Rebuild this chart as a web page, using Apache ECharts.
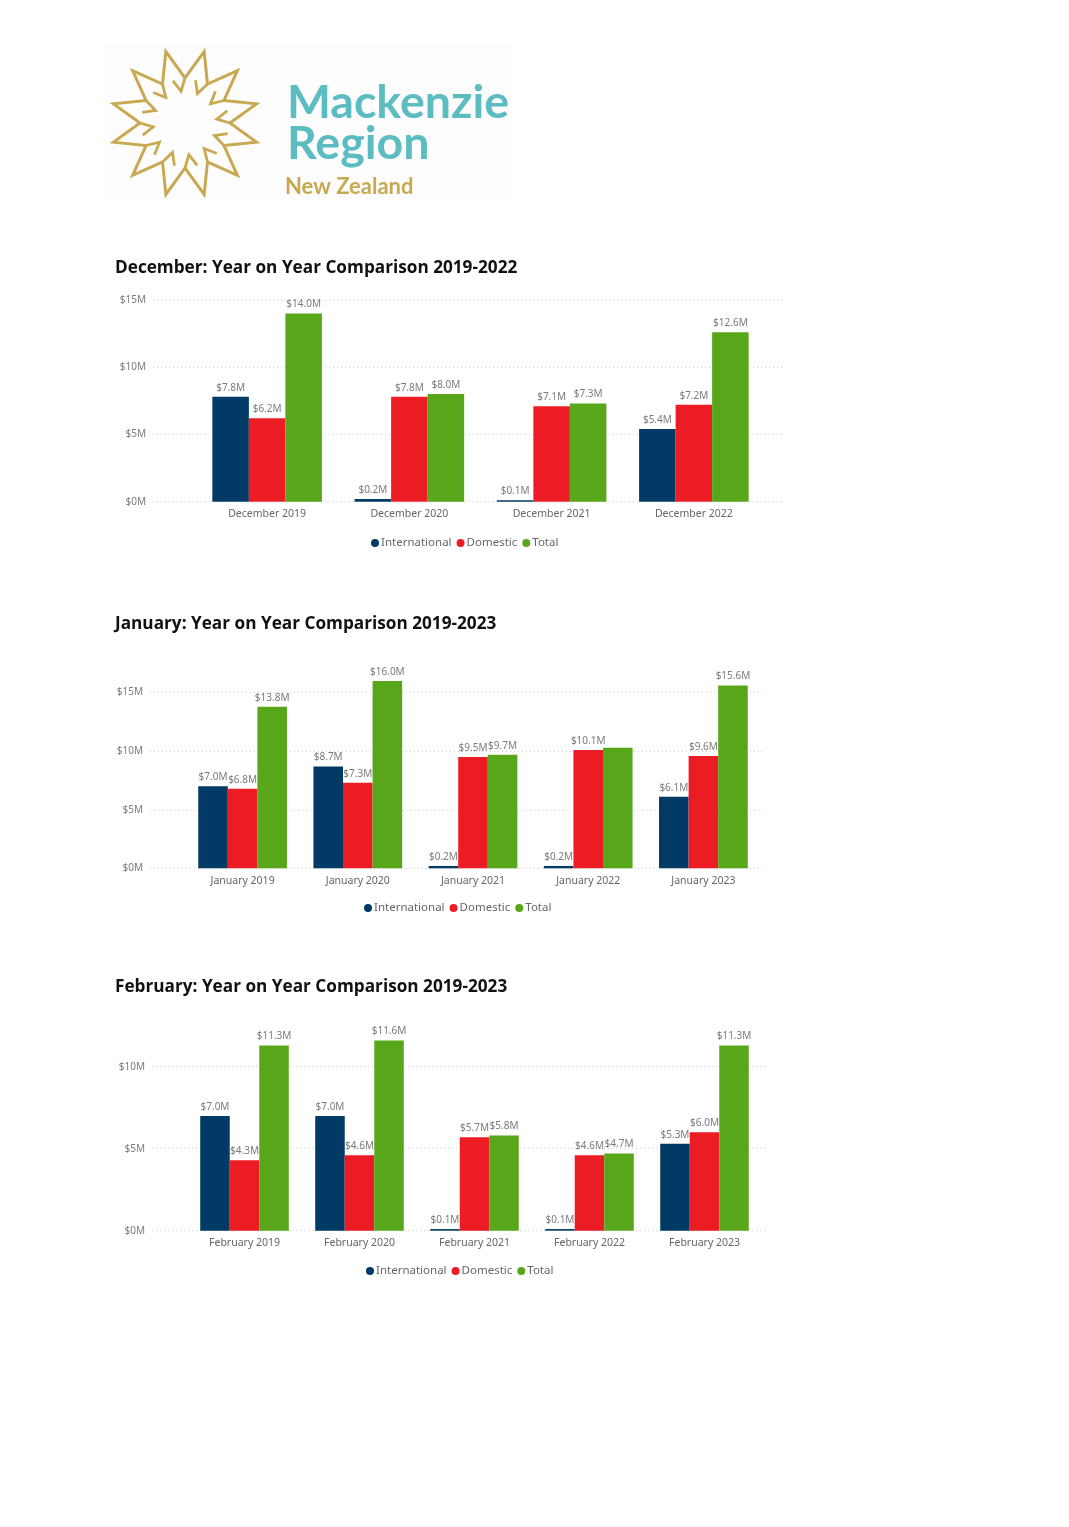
<!DOCTYPE html>
<html>
<head>
<meta charset="utf-8">
<script src="https://cdn.jsdelivr.net/npm/echarts@6/dist/echarts.min.js"></script>
<style>
html,body{margin:0;padding:0;background:#fff;}
#chart{width:1069px;height:1527px;}
</style>
</head>
<body>
<div id="chart"></div>
<script>
// ---- DATA ----
const seriesNames = ['International', 'Domestic', 'Total'];

const decTitle = 'December: Year on Year Comparison 2019-2022';
const decCategories = ['December 2019', 'December 2020', 'December 2021', 'December 2022'];
const decInternational = [7.8, 0.2, 0.1, 5.4];
const decDomestic = [6.2, 7.8, 7.1, 7.2];
const decTotal = [14.0, 8.0, 7.3, 12.6];

const janTitle = 'January: Year on Year Comparison 2019-2023';
const janCategories = ['January 2019', 'January 2020', 'January 2021', 'January 2022', 'January 2023'];
const janInternational = [7.0, 8.7, 0.2, 0.2, 6.1];
const janDomestic = [6.8, 7.3, 9.5, 10.1, 9.6];
const janTotal = [13.8, 16.0, 9.7, 10.3, 15.6];
const janTotalHiddenLabels = [3];

const febTitle = 'February: Year on Year Comparison 2019-2023';
const febCategories = ['February 2019', 'February 2020', 'February 2021', 'February 2022', 'February 2023'];
const febInternational = [7.0, 7.0, 0.1, 0.1, 5.3];
const febDomestic = [4.3, 4.6, 5.7, 4.6, 6.0];
const febTotal = [11.3, 11.6, 5.8, 4.7, 11.3];

const yTicksDec = [0, 5, 10, 15];
const yTicksJan = [0, 5, 10, 15];
const yTicksFeb = [0, 5, 10];

// ---- STYLE ----
const colors = ['#013A64', '#EC1C24', '#58A61A'];
const FONT = "'Noto Sans', 'Open Sans', sans-serif";
const labelGray = '#7a7a7a';

const panels = [
  { title: decTitle, cats: decCategories, vals: [decInternational, decDomestic, decTotal], hidden: [[], [], []], ticks: yTicksDec, max: 15,
    titleTop: 255, barLeft: 196, barWidth: 569, lineLeft: 153, lineRight: 785, zeroY: 501.7, pxPerM: 13.45, legendLeft: 366, legendTop: 532 },
  { title: janTitle, cats: janCategories, vals: [janInternational, janDomestic, janTotal], hidden: [[], [], janTotalHiddenLabels], ticks: yTicksJan, max: 16,
    titleTop: 611, barLeft: 185, barWidth: 576, lineLeft: 150, lineRight: 766, zeroY: 868.3, pxPerM: 11.71, legendLeft: 359, legendTop: 897 },
  { title: febTitle, cats: febCategories, vals: [febInternational, febDomestic, febTotal], hidden: [[], [], []], ticks: yTicksFeb, max: 12,
    titleTop: 974, barLeft: 187, barWidth: 575, lineLeft: 152, lineRight: 767, zeroY: 1230.7, pxPerM: 16.4, legendLeft: 361, legendTop: 1260 }
];

const grid = [], xAxis = [], yAxis = [], series = [], title = [], legend = [];

panels.forEach((p, i) => {
  const height = p.max * p.pxPerM;
  const top = p.zeroY - height;
  title.push({
    text: p.title, left: 110, top: p.titleTop,
    textStyle: { fontFamily: "'Open Sans', sans-serif", fontWeight: 'bold', fontSize: 17.2, color: '#111' }
  });
  // gridline/labels grid
  grid.push({ left: p.lineLeft, top: top, width: p.lineRight - p.lineLeft, height: height });
  xAxis.push({ gridIndex: 2 * i, type: 'value', show: false });
  yAxis.push({
    gridIndex: 2 * i, type: 'value', min: 0, max: p.max, interval: 5,
    axisLine: { show: false }, axisTick: { show: false },
    axisLabel: {
      color: labelGray, fontSize: 10, fontFamily: FONT, margin: 7,
      showMaxLabel: p.ticks.indexOf(p.max) >= 0,
      formatter: v => (p.ticks.indexOf(v) >= 0 ? '$' + v + 'M' : '')
    },
    splitLine: { show: true, showMaxLine: p.ticks.indexOf(p.max) >= 0, lineStyle: { type: [1, 3], color: '#cccccc', width: 1 } }
  });
  // bar grid
  grid.push({ left: p.barLeft, top: top, width: p.barWidth, height: height });
  xAxis.push({
    gridIndex: 2 * i + 1, type: 'category', data: p.cats,
    axisLine: { show: false }, axisTick: { show: false },
    axisLabel: { color: '#666', fontSize: 10.5, fontFamily: FONT, margin: 7 }
  });
  yAxis.push({ gridIndex: 2 * i + 1, type: 'value', min: 0, max: p.max, show: false, splitLine: { show: false } });

  seriesNames.forEach((name, s) => {
    series.push({
      name: name, type: 'bar', xAxisIndex: 2 * i + 1, yAxisIndex: 2 * i + 1,
      barGap: '0%', barCategoryGap: '23%',
      itemStyle: { color: colors[s] },
      label: {
        show: true, position: 'top', distance: 4, color: labelGray, fontSize: 10, fontFamily: FONT,
        formatter: prm => '$' + prm.value.toFixed(1) + 'M'
      },
      data: p.vals[s].map((v, k) => p.hidden[s].indexOf(k) >= 0 ? { value: v, label: { show: false } } : v)
    });
  });

  legend.push({
    data: seriesNames, left: p.legendLeft, top: p.legendTop, orient: 'horizontal',
    icon: 'circle', itemWidth: 8, itemHeight: 8, itemGap: 5,
    textStyle: { color: '#666', fontSize: 11.5, fontFamily: FONT, padding: [0, 0, 0, -3] }
  });
});

// ---- LOGO (decoration) ----
const logo = [];
const cx = 185, cy = 123, R = 74, r = 45;
const gold = '#C8A952';
const starPts = [];
for (let k = 0; k < 12; k++) {
  const a = (-75 + 30 * k) * Math.PI / 180;
  const b = (-60 + 30 * k) * Math.PI / 180;
  starPts.push([cx + R * Math.cos(a), cy + R * Math.sin(a)]);
  starPts.push([cx + r * Math.cos(b), cy + r * Math.sin(b)]);
}
logo.push({ type: 'rect', shape: { x: 103, y: 44, width: 410, height: 158 }, style: { fill: '#fdfdfd' }, z: -1 });
logo.push({ type: 'polygon', shape: { points: starPts }, style: { fill: 'none', stroke: gold, lineWidth: 3, lineJoin: 'miter' } });
for (let k = 0; k < 12; k++) {
  const a0 = (-60 + 30 * k) * Math.PI / 180;
  const a1 = (-75 + 30 * k) * Math.PI / 180;
  const p0 = [cx + r * Math.cos(a0), cy + r * Math.sin(a0)];
  const p1 = [cx + 32 * Math.cos(a1 + 0.14), cy + 32 * Math.sin(a1 + 0.14)];
  const p2 = [cx + 44 * Math.cos(a1 - 0.02), cy + 44 * Math.sin(a1 - 0.02)];
  logo.push({ type: 'polyline', shape: { points: [p0, p1, p2] }, style: { fill: 'none', stroke: gold, lineWidth: 2.8 } });
}
logo.push({ type: 'text', left: 287, top: 79, style: { text: 'Mackenzie', fill: '#5BBDC2', font: "bold 46.5px 'Lato', 'Inter', sans-serif" } });
logo.push({ type: 'text', left: 287, top: 120, style: { text: 'Region', fill: '#5BBDC2', font: "bold 46.5px 'Lato', 'Inter', sans-serif", letterSpacing: 1.5 } });
logo.push({ type: 'text', left: 285, top: 176, style: { text: 'New Zealand', fill: gold, font: "bold 22px 'Lato', 'Inter', sans-serif" } });

const chart = echarts.init(document.getElementById('chart'), null, { renderer: 'canvas' });
chart.setOption({
  backgroundColor: '#ffffff',
  animation: false,
  title: title,
  legend: legend,
  grid: grid,
  xAxis: xAxis,
  yAxis: yAxis,
  series: series,
  graphic: logo
});
</script>
</body>
</html>
